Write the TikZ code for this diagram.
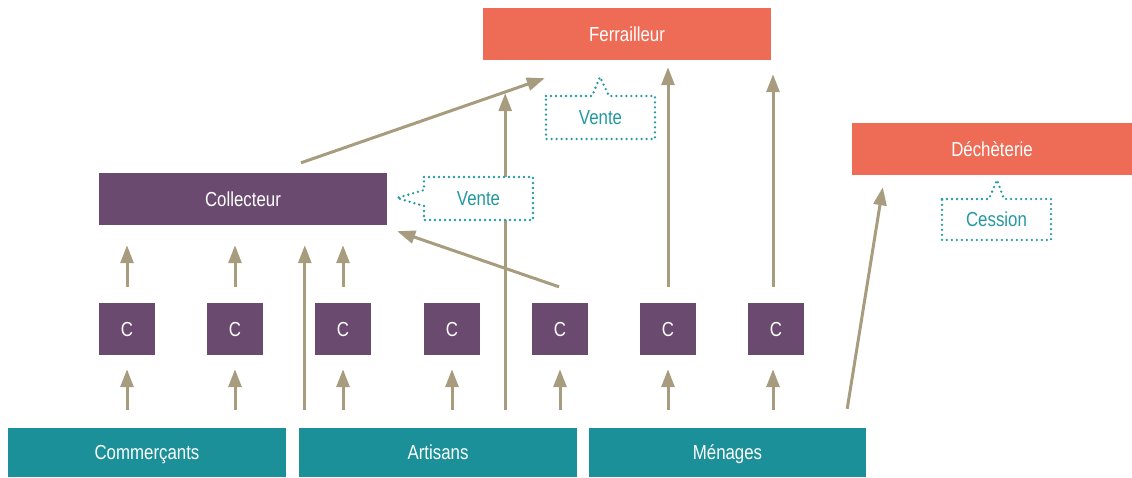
\documentclass[tikz,border=0pt]{standalone}
\usepackage{fontspec}
\setmainfont{Liberation Sans}[FakeStretch=0.83]
\usetikzlibrary{arrows.meta,calc}
\definecolor{orangebox}{HTML}{EE6B55}
\definecolor{purplebox}{HTML}{6A4A6F}
\definecolor{tealbox}{HTML}{1B9098}
\definecolor{flow}{HTML}{A89C7F}
\definecolor{note}{HTML}{2399A1}
\begin{document}
\begin{tikzpicture}[x=1pt,y=-1pt,
  box/.style={rectangle,inner sep=0pt,text=white,font=\fontsize{20.3}{23}\selectfont,text height=14pt,text depth=0pt},
  dest/.style={box,fill=orangebox,minimum height=52pt},
  collbox/.style={box,fill=purplebox,minimum height=52pt},
  cbox/.style={box,fill=purplebox,minimum width=56pt,minimum height=52pt},
  source/.style={box,fill=tealbox,minimum height=49pt},
  arr/.style={draw=flow,line width=3pt,-{Triangle[length=18pt,width=13pt]}},
  notetext/.style={inner sep=0pt,text=note,font=\fontsize{20.3}{23}\selectfont,text height=14pt,text depth=0pt},
  callout/.style={draw=note,fill=white,line width=2.6pt,line cap=round,dash pattern=on 0pt off 5pt}]
\useasboundingbox (0,0) rectangle (1132,477);

% destinations
\node[dest,minimum width=288pt] (fer) at (627,34) {Ferrailleur};
\node[dest,minimum width=280pt] (dec) at (992,149) {Déchèterie};
\node[collbox,minimum width=288pt] (col) at (243,199) {Collecteur};

% small collectors
\foreach \i/\x in {1/127,2/235,3/343,4/452,5/560,6/668,7/776}
  \node[cbox] (c\i) at (\x,329) {C};

% sources
\node[source,minimum width=278pt] (com) at (147,452.5) {Commerçants};
\node[source,minimum width=278pt] (art) at (438,452.5) {Artisans};
\node[source,minimum width=277pt] (men) at (727.5,452.5) {Ménages};

% start points of the direct flows out of the artisans box
\coordinate (artL) at ($(art.north west)+(6,0)$);
\coordinate (artR) at ($(art.north east)+(-72,0)$);

% sources -> small collectors
\foreach \i/\s in {1/com,2/com,3/art,4/art,5/art,6/men}
  \draw[arr,shorten <=18pt,shorten >=14pt] (c\i |- \s.north) -- (c\i.south);
\draw[arr,shorten <=18pt,shorten >=14pt] ([xshift=-3pt]c7 |- men.north) -- ([xshift=-3pt]c7.south);

% small collectors -> collecteur
\foreach \i in {1,2,3}
  \draw[arr,shorten <=16pt,shorten >=20pt] (c\i.north) -- (c\i.north |- col.south);
\draw[arr] ($(c5.north)+(-1,-16)$) -- ($(col.south east)+(10,6)$);

% direct flows from artisans
\draw[arr,shorten <=18pt,shorten >=20pt] (artL) -- (artL |- col.south);
\draw[arr,shorten <=18pt,shorten >=33pt] (artR) -- (artR |- fer.south);

% flows to ferrailleur
\draw[arr] ($(col.north)+(58,-10)$) -- ($(fer.south west)+(62,18)$);
\draw[arr,shorten <=16pt,shorten >=7pt] (c6.north) -- (c6.north |- fer.south);
\draw[arr,shorten <=16pt,shorten >=14pt] ([xshift=-3pt]c7.north) -- ([xshift=-3pt]c7.north |- fer.south);

% menages -> dechetterie
\draw[arr] ($(men.north east)+(-19,-19)$) -- ($(dec.south west)+(31,12)$);

% callouts
\draw[callout] (546,96) -- (592,96) -- (600,77) -- (609,96) -- (655,96) -- (655,139) -- (546,139) -- cycle;
\node[notetext] (vente1) at (600.5,117.5) {Vente};
\draw[callout] (424,177) -- (533,177) -- (533,220) -- (424,220) -- (424,206) -- (397,198) -- (424,190) -- cycle;
\node[notetext] (vente2) at (478.5,198.5) {Vente};
\draw[callout] (942,199) -- (989,199) -- (997,180) -- (1004,199) -- (1051,199) -- (1051,240) -- (942,240) -- cycle;
\node[notetext] (cession) at (996.5,219.5) {Cession};
\end{tikzpicture}
\end{document}
